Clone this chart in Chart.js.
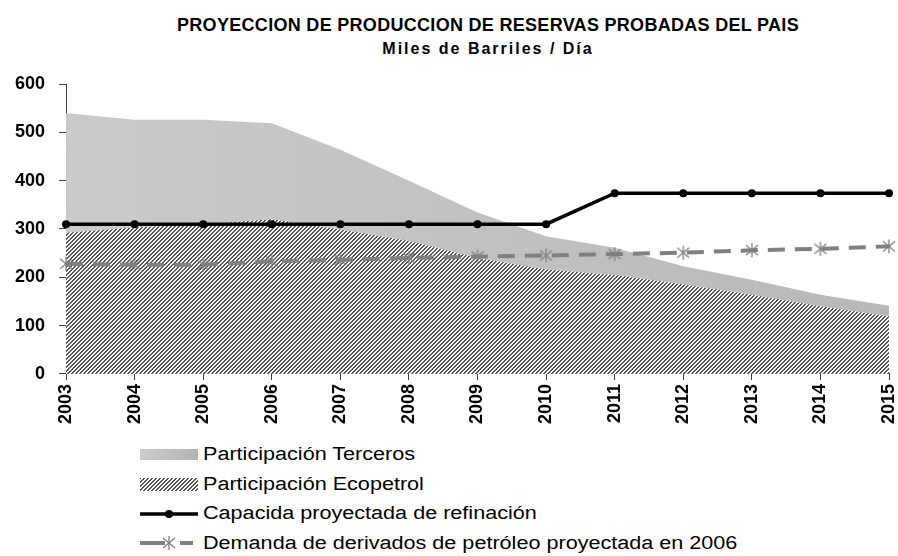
<!DOCTYPE html>
<html>
<head>
<meta charset="utf-8">
<script src="https://cdn.jsdelivr.net/npm/chart.js@4.4.1/dist/chart.umd.min.js"></script>
<style>
  body { margin: 0; background: #fff; font-family: "Liberation Sans", Arial, sans-serif; }
  #wrap { position: relative; width: 898px; height: 556px; overflow: hidden; }
  #chartBox { position: absolute; left: 0; top: 0; width: 898px; height: 432px; }
  .title { position: absolute; left: 0; width: 976px; text-align: center; font-weight: bold; color: #000; white-space: nowrap; }
  .t1 { top: 15px; font-size: 18px; letter-spacing: 0.3px; }
  .t2 { top: 40px; font-size: 16px; letter-spacing: 2px; }
  .legend { position: absolute; left: 140px; top: 440px; }
  .row { height: 29.5px; display: flex; align-items: center; }
  .sym { width: 58px; height: 16px; margin-right: 5px; display: flex; align-items: center; }
  .txt { font-size: 18px; color: #000; white-space: nowrap; display: inline-block; transform: scaleX(1.2); transform-origin: left center; }
  .terc { width: 58px; height: 11px; background: linear-gradient(to right, #cdcdcd, #b3b3b3); }
  .eco { width: 58px; height: 13px; background: repeating-linear-gradient(135deg, #555 0 1.4px, #fff 1.4px 2.8px); }
</style>
</head>
<body>
<div id="wrap">
  <div class="title t1">PROYECCION DE PRODUCCION DE RESERVAS PROBADAS DEL PAIS</div>
  <div class="title t2">Miles de Barriles / Día</div>
  <div id="chartBox"><canvas id="prodChart"></canvas></div>
  <div class="legend">
    <div class="row"><div class="sym"><div class="terc"></div></div><span class="txt">Participación Terceros</span></div>
    <div class="row"><div class="sym"><div class="eco"></div></div><span class="txt">Participación Ecopetrol</span></div>
    <div class="row"><div class="sym">
      <svg width="58" height="14"><line x1="0" y1="7" x2="58" y2="7" stroke="#000" stroke-width="3.5"/><circle cx="29" cy="7" r="4" fill="#000"/></svg>
    </div><span class="txt">Capacida proyectada de refinación</span></div>
    <div class="row"><div class="sym">
      <svg width="58" height="16"><line x1="0" y1="8" x2="25" y2="8" stroke="#808080" stroke-width="4"/>
        <line x1="40" y1="8" x2="53" y2="8" stroke="#808080" stroke-width="4"/>
        <g stroke="#808080" stroke-width="1.3"><line x1="29" y1="1" x2="29" y2="15"/><line x1="23" y1="3" x2="35" y2="13"/><line x1="23" y1="13" x2="35" y2="3"/></g></svg>
    </div><span class="txt">Demanda de derivados de petróleo proyectada en 2006</span></div>
  </div>
</div>
<script>
  // Data (miles de barriles / dia)
  const years = ["2003", "2004", "2005", "2006", "2007", "2008", "2009", "2010", "2011", "2012", "2013", "2014", "2015"];
  const ecopetrol = [292, 303, 310, 320, 299, 275, 240, 216, 205, 185, 164, 140, 119];
  const terceros = [248, 223, 216, 199, 165, 125, 94, 69, 56, 38, 31, 24, 22];
  const capacidad = [310, 310, 310, 310, 310, 310, 310, 310, 374, 374, 374, 374, 374];
  const demanda = [228, 226, 226, 233, 236, 240, 243, 245, 248, 251, 256, 259, 264];

  // Hatch pattern for Ecopetrol area
  function makeHatch() {
    const c = document.createElement("canvas");
    c.width = 4;
    c.height = 4;
    const g = c.getContext("2d");
    g.fillStyle = "#fff";
    g.fillRect(0, 0, 4, 4);
    g.fillStyle = "#555";
    for (let x = 0; x < 4; x++) {
      for (let y = 0; y < 4; y++) {
        if ((x + y) % 4 === 0 || (x + y) % 4 === 1) g.fillRect(x, y, 1, 1);
      }
    }
    return c;
  }

  // Asterisk marker for demand line
  function makeStar() {
    const c = document.createElement("canvas");
    c.width = 16;
    c.height = 16;
    const g = c.getContext("2d");
    g.strokeStyle = "#808080";
    g.lineWidth = 1.3;
    g.beginPath();
    g.moveTo(8, 1); g.lineTo(8, 15);
    g.moveTo(2, 3); g.lineTo(14, 13);
    g.moveTo(2, 13); g.lineTo(14, 3);
    g.stroke();
    return c;
  }

  const ctx = document.getElementById("prodChart").getContext("2d");
  const hatch = ctx.createPattern(makeHatch(), "repeat");
  const star = makeStar();

  function tercerosFill(context) {
    const area = context.chart.chartArea;
    if (!area) return "#c4c4c4";
    const grad = context.chart.ctx.createLinearGradient(area.left, 0, area.right, 0);
    grad.addColorStop(0, "#cbcbcb");
    grad.addColorStop(1, "#b8b8b8");
    return grad;
  }

  const prodChart = new Chart(ctx, {
    type: "line",
    data: {
      labels: years,
      datasets: [
        {
          label: "Capacida proyectada de refinación",
          data: capacidad,
          stack: "cap",
          borderColor: "#000",
          backgroundColor: "#000",
          borderWidth: 3.5,
          pointRadius: 4,
          pointBackgroundColor: "#000",
          pointBorderWidth: 0,
          fill: false,
          tension: 0,
        },
        {
          label: "Demanda de derivados de petróleo proyectada en 2006",
          data: demanda,
          stack: "dem",
          borderColor: "#808080",
          borderWidth: 4,
          borderDash: [17, 10],
          pointStyle: star,
          fill: false,
          tension: 0,
        },
        {
          label: "Participación Ecopetrol",
          data: ecopetrol,
          stack: "prod",
          borderWidth: 0,
          pointRadius: 0,
          backgroundColor: hatch,
          fill: "origin",
          tension: 0,
        },
        {
          label: "Participación Terceros",
          data: terceros,
          stack: "prod",
          borderWidth: 0,
          pointRadius: 0,
          backgroundColor: tercerosFill,
          fill: "-1",
          tension: 0,
        },
      ],
    },
    options: {
      responsive: true,
      maintainAspectRatio: false,
      animation: false,
      layout: { padding: { left: 1, right: 9, top: 84, bottom: 4 } },
      plugins: {
        legend: { display: false },
        title: { display: false },
        tooltip: { enabled: false },
      },
      scales: {
        x: {
          offset: false,
          grid: { drawOnChartArea: false, tickLength: 6, color: "#404040" },
          border: { color: "#404040" },
          ticks: {
            color: "#000",
            font: { family: "Liberation Sans", size: 18, weight: "bold" },
            maxRotation: 90,
            minRotation: 90,
            padding: 4,
            autoSkip: false,
          },
          afterFit: function (scale) {
            // rotated labels reserve too much room on the right
            scale.paddingRight = 0;
            scale.paddingLeft = 0;
          },
        },
        y: {
          stacked: true,
          min: 0,
          max: 600,
          grid: { drawOnChartArea: false, tickLength: 7, color: "#404040" },
          border: { color: "#404040" },
          ticks: {
            stepSize: 100,
            color: "#000",
            font: { family: "Liberation Sans", size: 18, weight: "bold" },
            padding: 14,
          },
        },
      },
    },
  });
</script>
</body>
</html>
